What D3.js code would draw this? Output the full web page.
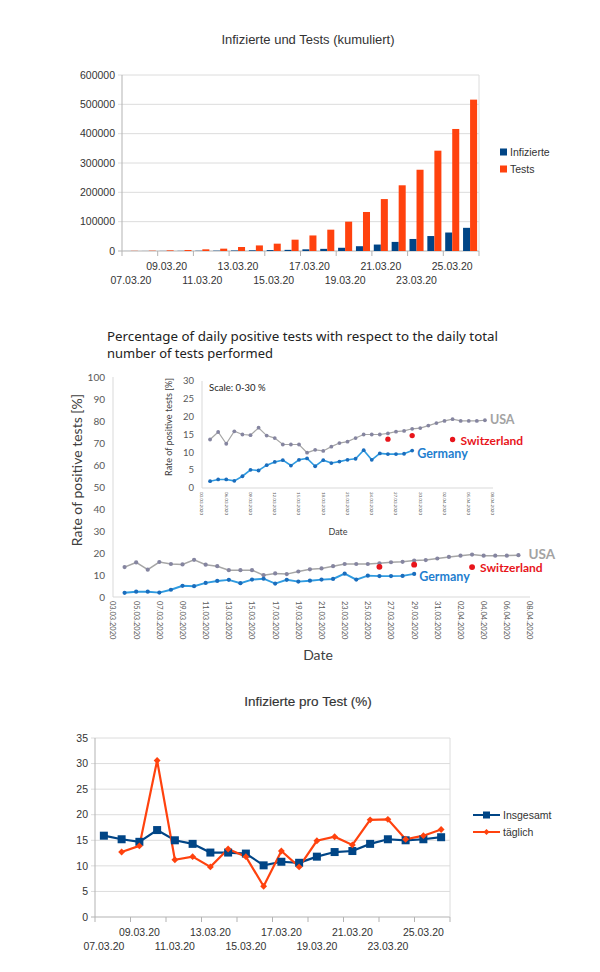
<!DOCTYPE html>
<html>
<head>
<meta charset="utf-8">
<script src="https://cdn.jsdelivr.net/npm/d3@7"></script>
<style>
    body { margin: 0; background: #fff; }
    text { font-family: "Liberation Sans", Arial, sans-serif; }
    .xl text { font-family: Lato, "Open Sans", sans-serif; }
    .xl text.ttl { font-family: "Noto Sans", "Open Sans", sans-serif; font-weight: 400; }
</style>
</head>
<body>
<div id="chart"></div>
<script>
// top + bottom chart: one category per day
const dayLabels = ["07.03.20", "08.03.20", "09.03.20", "10.03.20", "11.03.20", "12.03.20", "13.03.20", "14.03.20", "15.03.20", "16.03.20",
    "17.03.20", "18.03.20", "19.03.20", "20.03.20", "21.03.20", "22.03.20", "23.03.20", "24.03.20", "25.03.20", "26.03.20"];
const infected = [100, 170, 330, 550, 850, 1150, 1700, 2400, 3100, 3900, 5700, 7300, 11000, 16300, 22000, 31000, 41000, 51000, 63000, 79000];
const tests = [600, 1100, 2200, 3300, 5700, 8000, 13600, 19000, 25000, 38600, 53000, 72700, 100000, 133000, 177000, 224000, 277000, 342000, 416000, 516000];
const cumTicks = [0, 100000, 200000, 300000, 400000, 500000, 600000];

const rateTotal = [15.9, 15.2, 14.7, 17.0, 15.0, 14.3, 12.6, 12.6, 12.4, 10.1, 10.8, 10.6, 11.8, 12.7, 12.9, 14.3, 15.2, 15.0, 15.2, 15.6];
const rateDaily = [null, 12.7, 13.9, 30.6, 11.2, 11.8, 9.8, 13.3, 11.8, 6.0, 12.9, 9.8, 14.9, 15.7, 14.1, 19.0, 19.1, 15.2, 15.9, 17.1];
const rateTicks = [0, 5, 10, 15, 20, 25, 30, 35];

// middle chart: daily positive rate, one value per day from the start date
const usaStart = "2020-03-04";
const usaRate = [13.6, 15.7, 12.4, 15.9, 15.0, 14.8, 16.9, 14.7, 14.0, 12.2, 12.2, 12.2, 9.9, 10.7, 10.4, 11.6, 12.6, 13.0,
    14.0, 15.0, 15.0, 15.0, 15.3, 15.8, 16.0, 16.6, 16.8, 17.5, 18.2, 18.8, 19.3, 18.8, 18.8, 18.8, 19.0];
const germanyStart = "2020-03-04";
const germanyRate = [1.9, 2.4, 2.4, 2.0, 3.3, 5.1, 4.9, 6.4, 7.3, 7.8, 6.3, 7.9, 8.3, 6.1, 7.8, 7.0, 7.4, 7.9, 8.2, 10.6,
    7.9, 9.7, 9.5, 9.5, 9.6, 10.5];
const swissDates = ["2020-03-26", "2020-03-29", "2020-04-03"];
const swissRate = [13.7, 14.7, 13.6];
const dateRange = ["2020-03-03", "2020-04-08"];
const mainTicks = [0, 10, 20, 30, 40, 50, 60, 70, 80, 90, 100];
const insetTicks = [0, 5, 10, 15, 20, 25, 30];

const BLUE = "#004586", ORANGE = "#ff420e";
const USA_LINE = "#a6a6a6", USA_DOT = "#8585a0";
const GER_LINE = "#2f9be0", GER_DOT = "#1a6dbd", SWISS = "#e8151b";

let svg = d3.select("#chart").append("svg").attr("width", 600).attr("height", 972);

function DrawFrame(g, x0, x1, y, ticks, fmt, labelX) {
    let y0 = y.range()[0], y1 = y.range()[1];
    g.selectAll("line.grid").data(ticks).join("line").attr("class", "grid")
        .attr("x1", x0 - 4).attr("x2", x1).attr("y1", d => y(d)).attr("y2", d => y(d))
        .style("stroke", d => d == 0 ? "#b3b3b3" : "#dcdcdc").style("stroke-width", 1);
    g.append("line").attr("x1", x0).attr("x2", x0).attr("y1", y0).attr("y2", y1).style("stroke", "#b3b3b3");
    g.append("line").attr("x1", x1).attr("x2", x1).attr("y1", y0).attr("y2", y1).style("stroke", "#dcdcdc");
    g.selectAll("text.ytick").data(ticks).join("text").attr("class", "ytick")
        .attr("x", labelX).attr("y", d => y(d)).attr("dy", ".35em").attr("text-anchor", "end")
        .attr("font-size", 10.5).style("fill", "#333").text(fmt);
}

function DrawDayAxis(g, x, y0) {
    let step = x.step();
    let bounds = d3.range(0, dayLabels.length + 1, 2).map(i => x.range()[0] + i * step);
    g.selectAll("line.xtick").data(bounds).join("line").attr("class", "xtick")
        .attr("x1", d => d).attr("x2", d => d).attr("y1", y0).attr("y2", y0 + 5).style("stroke", "#b3b3b3");
    let shown = dayLabels.filter((d, i) => i % 2 == 0);
    g.selectAll("text.xlab").data(shown).join("text").attr("class", "xlab")
        .attr("x", d => x(d) + x.bandwidth() / 2)
        .attr("y", (d, i) => y0 + (i % 2 == 0 ? 33 : 19))
        .attr("text-anchor", "middle").attr("font-size", 10.5).style("fill", "#333").text(d => d);
}

//TOP: Infizierte und Tests (kumuliert)
{
    let g = svg.append("g");
    let x = d3.scaleBand().domain(dayLabels).range([122, 479]);
    let y = d3.scaleLinear().domain([0, 600000]).range([251, 75]);
    let sub = d3.scaleBand().domain(["inf", "test"]).range([0, x.bandwidth()]).paddingOuter(0.27);

    g.append("text").attr("x", 308).attr("y", 44).attr("text-anchor", "middle")
        .attr("font-size", 13).style("fill", "#333").text("Infizierte und Tests (kumuliert)");

    DrawFrame(g, 122, 479, y, cumTicks, d => d, 115);

    g.selectAll("rect.inf").data(infected).join("rect").attr("class", "inf")
        .attr("x", (d, i) => x(dayLabels[i]) + sub("inf")).attr("width", sub.bandwidth())
        .attr("y", d => y(d)).attr("height", d => y(0) - y(d)).style("fill", BLUE);
    g.selectAll("rect.test").data(tests).join("rect").attr("class", "test")
        .attr("x", (d, i) => x(dayLabels[i]) + sub("test")).attr("width", sub.bandwidth())
        .attr("y", d => y(d)).attr("height", d => y(0) - y(d)).style("fill", ORANGE);

    DrawDayAxis(g, x, 251);

    let legend = [["Infizierte", BLUE], ["Tests", ORANGE]];
    legend.forEach((l, i) => {
        let el = g.append("g").attr("transform", "translate(500," + (152 + 17 * i) + ")");
        el.append("rect").attr("x", 0).attr("y", -3.5).attr("width", 7).attr("height", 7).style("fill", l[1]);
        el.append("text").attr("x", 10).attr("dy", ".35em").attr("font-size", 10.5).style("fill", "#333").text(l[0]);
    });
}

//MIDDLE: daily positive rate, main plot with zoomed inset
{
    let g = svg.append("g").attr("class", "xl");
    let parse = d3.utcParse("%Y-%m-%d"), fmt = d3.utcFormat("%d.%m.%Y");
    let d0 = parse(dateRange[0]), d1 = parse(dateRange[1]);
    let usa = usaRate.map((v, i) => ({ date: d3.utcDay.offset(parse(usaStart), i), v: v }));
    let ger = germanyRate.map((v, i) => ({ date: d3.utcDay.offset(parse(germanyStart), i), v: v }));
    let swiss = swissRate.map((v, i) => ({ date: parse(swissDates[i]), v: v }));

    let title = ["Percentage of daily positive tests with respect to the daily total", "number of tests performed"];
    let titleLen = [391, 166];
    title.forEach((t, i) => g.append("text").attr("class", "ttl").attr("x", 107).attr("y", 341 + 17 * i)
        .attr("font-size", 13).attr("textLength", titleLen[i]).attr("lengthAdjust", "spacingAndGlyphs")
        .style("fill", "#222").text(t));

    function Panel(x, y, ticks, o) {
        let p = g.append("g");
        let [yb, yt] = y.range();
        p.append("line").attr("x1", x.range()[0]).attr("x2", x.range()[0]).attr("y1", yb).attr("y2", yt).style("stroke", "#d9d9d9");
        p.append("line").attr("x1", x.range()[0]).attr("x2", x.range()[1]).attr("y1", yb).attr("y2", yb).style("stroke", "#d9d9d9");
        p.selectAll("text.yt").data(ticks).join("text").attr("class", "yt")
            .attr("x", x.range()[0] - o.yPad).attr("y", d => y(d)).attr("dy", ".35em").attr("text-anchor", "end")
            .attr("font-size", o.yFont).style("fill", "#595959").text(d => d);
        let xt = d3.utcDay.range(d0, d3.utcDay.offset(d1, 1), o.step);
        p.selectAll("text.xt").data(xt).join("text").attr("class", "xt")
            .attr("transform", d => "translate(" + x(d) + "," + (yb + 4) + ") rotate(90)")
            .attr("dy", ".35em").attr("font-size", o.xFont).style("fill", "#595959").text(fmt);

        let line = d3.line().x(d => x(d.date)).y(d => y(d.v));
        p.append("path").datum(usa).attr("d", line).style("fill", "none").style("stroke", USA_LINE).style("stroke-width", o.lw);
        p.selectAll("circle.usa").data(usa).join("circle").attr("class", "usa")
            .attr("cx", d => x(d.date)).attr("cy", d => y(d.v)).attr("r", o.r).style("fill", USA_DOT);
        p.append("path").datum(ger).attr("d", line).style("fill", "none").style("stroke", GER_LINE).style("stroke-width", o.lw + 0.4);
        p.selectAll("circle.ger").data(ger).join("circle").attr("class", "ger")
            .attr("cx", d => x(d.date)).attr("cy", d => y(d.v)).attr("r", o.r).style("fill", GER_DOT);
        p.selectAll("circle.sw").data(swiss).join("circle").attr("class", "sw")
            .attr("cx", d => x(d.date)).attr("cy", d => y(d.v)).attr("r", o.r * 1.4).style("fill", SWISS);

        let lastUsa = usa[usa.length - 1], lastGer = ger[ger.length - 1], lastSw = swiss[swiss.length - 1];
        p.append("text").attr("x", x(lastUsa.date) + o.usaDx).attr("y", y(lastUsa.v) - 1).attr("dy", ".35em")
            .attr("font-size", o.usaFont).attr("font-weight", "bold").style("fill", "#a3a3a3").text("USA");
        p.append("text").attr("x", x(lastGer.date) + 5).attr("y", y(lastGer.v) + 3).attr("dy", ".35em")
            .attr("font-size", 12.5).attr("font-weight", "bold").style("fill", "#1f7fcf").text("Germany");
        p.append("text").attr("x", x(lastSw.date) + 8).attr("y", y(lastSw.v) + 1).attr("dy", ".35em")
            .attr("font-size", 12).attr("font-weight", "bold").style("fill", SWISS).text("Switzerland");
        return p;
    }

    //main
    let xMain = d3.scaleUtc().domain([d0, d1]).range([113, 530]);
    let yMain = d3.scaleLinear().domain([0, 100]).range([597, 377]);
    Panel(xMain, yMain, mainTicks, { yPad: 8, yFont: 10, step: 2, xFont: 7.5, lw: 1.5, r: 2.1, usaDx: 10, usaFont: 13.5 });
    g.append("text").attr("transform", "translate(82,470) rotate(-90)").attr("text-anchor", "middle")
        .attr("font-size", 14).style("fill", "#404040").text("Rate of positive tests [%]");
    g.append("text").attr("x", 318).attr("y", 660).attr("text-anchor", "middle")
        .attr("font-size", 14).style("fill", "#404040").text("Date");

    //inset
    let xIn = d3.scaleUtc().domain([d0, d1]).range([202, 493]);
    let yIn = d3.scaleLinear().domain([0, 30]).range([488, 381]);
    Panel(xIn, yIn, insetTicks, { yPad: 8, yFont: 9.5, step: 3, xFont: 4.5, lw: 1.2, r: 1.9, usaDx: 5, usaFont: 12.5 });
    g.append("text").attr("transform", "translate(172,427) rotate(-90)").attr("text-anchor", "middle")
        .attr("font-size", 9).style("fill", "#404040").text("Rate of positive tests [%]");
    g.append("text").attr("x", 209).attr("y", 391).attr("font-size", 9.5).style("fill", "#222").text("Scale: 0-30 %");
    g.append("text").attr("x", 338).attr("y", 535).attr("text-anchor", "middle")
        .attr("font-size", 9).style("fill", "#404040").text("Date");
}

//BOTTOM: Infizierte pro Test (%)
{
    let g = svg.append("g");
    let x = d3.scaleBand().domain(dayLabels).range([95, 450]);
    let y = d3.scaleLinear().domain([0, 35]).range([917, 738]);
    let cx = (d, i) => x(dayLabels[i]) + x.bandwidth() / 2;

    g.append("text").attr("x", 308).attr("y", 706).attr("text-anchor", "middle")
        .attr("font-size", 13.5).style("fill", "#333").style("stroke", "#333").style("stroke-width", 0.15)
        .text("Infizierte pro Test (%)");

    DrawFrame(g, 95, 450, y, rateTicks, d => d, 88);
    DrawDayAxis(g, x, 917);

    let line = d3.line().defined(d => d != null).x(cx).y(d => y(d));
    g.append("path").datum(rateTotal).attr("d", line).style("fill", "none").style("stroke", BLUE).style("stroke-width", 2.2);
    g.append("path").datum(rateDaily).attr("d", line).style("fill", "none").style("stroke", ORANGE).style("stroke-width", 2.2);

    g.selectAll("rect.tot").data(rateTotal).join("rect").attr("class", "tot")
        .attr("x", (d, i) => cx(d, i) - 4).attr("y", d => y(d) - 4).attr("width", 8).attr("height", 8).style("fill", BLUE);
    let diamond = d3.symbol().type(d3.symbolDiamond2).size(30);
    g.selectAll("path.day").data(rateDaily.map((v, i) => [v, i]).filter(d => d[0] != null)).join("path").attr("class", "day")
        .attr("transform", d => "translate(" + cx(d[0], d[1]) + "," + y(d[0]) + ")")
        .attr("d", diamond).style("fill", ORANGE);

    let legend = [["Insgesamt", BLUE, "sq"], ["täglich", ORANGE, "dia"]];
    legend.forEach((l, i) => {
        let el = g.append("g").attr("transform", "translate(473," + (815 + 17 * i) + ")");
        el.append("line").attr("x1", 0).attr("x2", 27).style("stroke", l[1]).style("stroke-width", 2);
        if (l[2] == "sq") el.append("rect").attr("x", 10).attr("y", -3.5).attr("width", 7).attr("height", 7).style("fill", l[1]);
        else el.append("path").attr("transform", "translate(13.5,0)").attr("d", d3.symbol().type(d3.symbolDiamond2).size(24)).style("fill", l[1]);
        el.append("text").attr("x", 30).attr("dy", ".35em").attr("font-size", 10.5).style("fill", "#333").text(l[0]);
    });
}
</script>
</body>
</html>
